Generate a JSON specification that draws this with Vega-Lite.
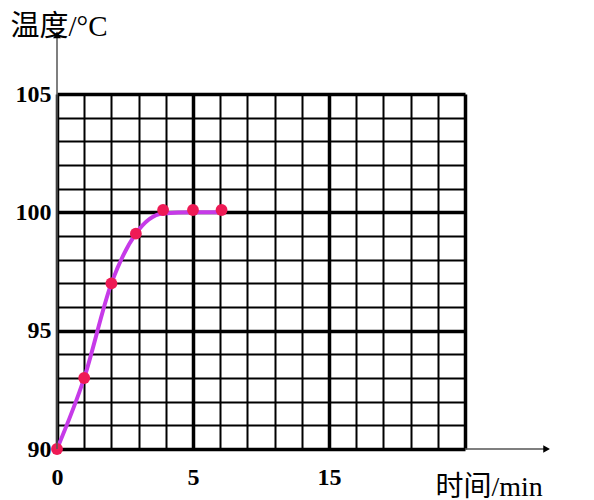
{
  "$schema": "https://vega.github.io/schema/vega-lite/v6.json",
  "autosize": {"type": "none"},
  "width": 408,
  "height": 355,
  "padding": {"left": 57, "top": 94, "right": 129, "bottom": 51},
  "background": "white",
  "datasets": {
    "points": [
      {"t": 0, "temp": 90},
      {"t": 1, "temp": 93},
      {"t": 2, "temp": 97},
      {"t": 2.9, "temp": 99.1},
      {"t": 3.9, "temp": 100.1},
      {"t": 5, "temp": 100.1},
      {"t": 6.05, "temp": 100.1}
    ],
    "curve": [
      {"t": 0, "temp": 90},
      {"t": 1, "temp": 93},
      {"t": 2, "temp": 97},
      {"t": 2.9, "temp": 99.1},
      {"t": 3.9, "temp": 99.95},
      {"t": 5, "temp": 100},
      {"t": 6.05, "temp": 100}
    ],
    "arrows": [
      {"t": 0, "temp": 90, "t2": 0, "temp2": 107.5},
      {"t": 15, "temp": 90, "t2": 18, "temp2": 90}
    ],
    "heads": [
      {"t": 0, "temp": 107.5, "shape": "triangle-up"},
      {"t": 18, "temp": 90, "shape": "triangle-right"}
    ]
  },
  "encoding": {
    "x": {
      "field": "t",
      "type": "quantitative",
      "scale": {"domain": [0, 15], "nice": false, "zero": false},
      "axis": {
        "values": [0, 1, 2, 3, 4, 5, 6, 7, 8, 9, 10, 11, 12, 13, 14, 15],
        "grid": true,
        "gridColor": "black",
        "gridWidth": {"condition": {"test": "datum.value % 5 === 0", "value": 3.5}, "value": 2},
        "domain": false,
        "ticks": false,
        "labelOverlap": false,
        "labelFlush": false,
        "labelExpr": "datum.value == 0 ? '0' : datum.value == 5 ? '5' : datum.value == 10 ? '15' : ''",
        "labelFont": "Liberation Serif",
        "labelFontWeight": "bold",
        "labelFontSize": 24,
        "labelColor": "black",
        "labelPadding": 16,
        "title": "时间/min",
        "titleFont": "Liberation Serif, Noto Sans CJK SC",
        "titleFontSize": 28,
        "titleFontWeight": "normal",
        "titleColor": "black",
        "titleAngle": 0,
        "titleAlign": "left",
        "titleBaseline": "alphabetic",
        "titleX": 378,
        "titleY": 46
      }
    },
    "y": {
      "field": "temp",
      "type": "quantitative",
      "scale": {"domain": [90, 105], "nice": false, "zero": false},
      "axis": {
        "values": [90, 91, 92, 93, 94, 95, 96, 97, 98, 99, 100, 101, 102, 103, 104, 105],
        "grid": true,
        "gridColor": "black",
        "gridWidth": {"condition": {"test": "datum.value % 5 === 0", "value": 3.5}, "value": 2},
        "domain": false,
        "ticks": false,
        "labelOverlap": false,
        "labelFlush": false,
        "labelExpr": "datum.value % 5 === 0 ? datum.label : ''",
        "labelFont": "Liberation Serif",
        "labelFontWeight": "bold",
        "labelFontSize": 24,
        "labelColor": "black",
        "labelPadding": 6,
        "title": "温度/°C",
        "titleFont": "Liberation Serif, Noto Sans CJK SC",
        "titleFontSize": 29,
        "titleFontWeight": "normal",
        "titleColor": "black",
        "titleAngle": 0,
        "titleAlign": "left",
        "titleBaseline": "alphabetic",
        "titleX": -47,
        "titleY": -59
      }
    }
  },
  "layer": [
    {
      "data": {"name": "curve"},
      "mark": {"type": "line", "interpolate": "monotone", "color": "#c63ae8", "strokeWidth": 4}
    },
    {
      "data": {"name": "points"},
      "mark": {"type": "point", "filled": true, "color": "#ee1a55", "size": 140, "opacity": 1}
    },
    {
      "data": {"name": "arrows"},
      "mark": {"type": "rule", "color": "#555", "strokeWidth": 1.5},
      "encoding": {
        "x2": {"field": "t2"},
        "y2": {"field": "temp2"}
      }
    },
    {
      "data": {"name": "heads"},
      "mark": {"type": "point", "filled": true, "color": "black", "size": 60, "opacity": 1},
      "encoding": {
        "shape": {"field": "shape", "type": "nominal", "scale": null}
      }
    }
  ],
  "config": {
    "view": {"stroke": null}
  }
}
